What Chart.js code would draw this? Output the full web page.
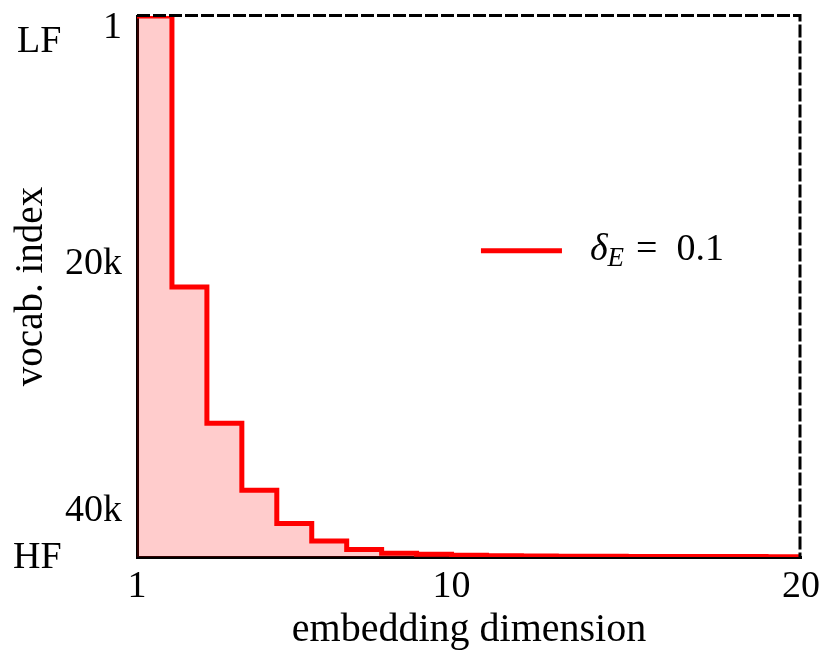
<!DOCTYPE html>
<html>
<head>
<meta charset="utf-8">
<script src="https://cdn.jsdelivr.net/npm/chart.js@4.4.1/dist/chart.umd.min.js"></script>
<style>
  html, body { margin: 0; background: #fff; }
</style>
</head>
<body>
<canvas id="myChart" width="819" height="650"></canvas>
<script>
  // data
  const dims = [1, 2, 3, 4, 5, 6, 7, 8, 9, 10, 11, 12, 13, 14, 15, 16, 17, 18, 19, 20];
  const vocabIdx = [1, 21900, 32900, 38300, 41000, 42400, 43100, 43400, 43480, 43560,
                    43600, 43620, 43630, 43640, 43650, 43650, 43660, 43660, 43670, 43670];
  const xTicks = [1, 10, 20];
  const yTicks = [1, 20000, 40000];
  const yTickLabels = ['1', '20k', '40k'];
  const yMax = 43700;

  const FONT = 'Liberation Serif';
  const tickFont = { family: FONT, size: 38 };

  const points = dims.map((d, i) => ({ x: d, y: vocabIdx[i] }));

  // dashed top/right frame, LF / HF marks and the in-plot legend
  const extras = {
    id: 'extras',
    afterDraw(chart) {
      const { ctx, chartArea: a } = chart;
      const w = a.right - a.left, h = a.bottom - a.top;
      ctx.save();
      ctx.strokeStyle = '#000';
      ctx.lineWidth = 3;
      ctx.setLineDash([13, 3]);
      ctx.beginPath();
      ctx.moveTo(a.left, a.top - 0.5);
      ctx.lineTo(a.right - 1, a.top - 0.5);
      ctx.lineTo(a.right - 1, a.bottom);
      ctx.stroke();
      ctx.setLineDash([]);

      ctx.fillStyle = '#000';
      ctx.textBaseline = 'alphabetic';
      ctx.textAlign = 'left';
      ctx.font = '38px "' + FONT + '"';
      ctx.fillText('LF', 17, a.top + 36);
      ctx.fillText('HF', 13, a.bottom + 11);

      const ds = chart.data.datasets[0];
      const lx = a.left + 0.518 * w, ly = a.top + 0.434 * h;
      ctx.strokeStyle = ds.borderColor;
      ctx.lineWidth = 5;
      ctx.beginPath();
      ctx.moveTo(lx, ly);
      ctx.lineTo(lx + 81, ly);
      ctx.stroke();

      let x = lx + 109;
      const base = ly + 9;
      ctx.font = 'italic 38px "' + FONT + '"';
      ctx.fillText('δ', x, base);
      x += ctx.measureText('δ').width;
      ctx.font = 'italic 27px "' + FONT + '"';
      ctx.fillText('E', x, base + 6);
      x += ctx.measureText('E').width + 12;
      ctx.font = '38px "' + FONT + '"';
      ctx.fillText('=', x, base);
      x += ctx.measureText('=').width + 19;
      ctx.fillText('0.1', x, base);
      ctx.restore();
    }
  };

  function noPad(s) {
    s.paddingLeft = s.paddingRight = s.paddingTop = s.paddingBottom = 0;
  }

  const ctx = document.getElementById('myChart').getContext('2d');
  const myChart = new Chart(ctx, {
    type: 'line',
    data: {
      datasets: [{
        label: 'δE = 0.1',
        data: points,
        stepped: 'before',
        borderColor: '#ff0000',
        backgroundColor: 'rgba(255, 0, 0, 0.2)',
        borderWidth: 5,
        fill: { value: yMax },
        pointRadius: 0,
        clip: 0
      }]
    },
    options: {
      responsive: false,
      animation: false,
      layout: { padding: { left: 0, top: 16, right: 18, bottom: 0 } },
      plugins: { legend: { display: false }, tooltip: { enabled: false } },
      scales: {
        x: {
          type: 'linear',
          min: 1,
          max: 20,
          z: 1,
          grid: { display: false, drawTicks: false },
          border: { display: true, color: '#000', width: 3 },
          afterBuildTicks: s => { s.ticks = xTicks.map(v => ({ value: v })); },
          afterFit: s => { s.height = 93; noPad(s); },
          ticks: {
            color: '#000',
            font: tickFont,
            padding: 7,
            maxRotation: 0,
            callback: v => String(v)
          },
          title: {
            display: true,
            text: 'embedding dimension',
            color: '#000',
            font: { family: FONT, size: 40 },
            padding: { top: 0, bottom: -4 }
          }
        },
        y: {
          type: 'linear',
          reverse: true,
          min: 0,
          max: yMax,
          grid: { display: false, drawTicks: false },
          border: { display: true, color: '#000', width: 3 },
          afterBuildTicks: s => { s.ticks = yTicks.map(v => ({ value: v })); },
          afterFit: s => { s.width = 137; noPad(s); },
          ticks: {
            color: '#000',
            padding: 15,
            font: c => (c.tick && c.tick.value === 1)
              ? { family: FONT, size: 38, lineHeight: '24px' }
              : tickFont,
            callback: v => {
              const lab = yTickLabels[yTicks.indexOf(v)];
              return v === 1 ? ['', lab] : lab;
            }
          },
          title: {
            display: true,
            text: 'vocab. index',
            color: '#000',
            font: { family: FONT, size: 39 },
            padding: { top: 8, bottom: 0 }
          }
        }
      }
    },
    plugins: [extras]
  });
</script>
</body>
</html>
